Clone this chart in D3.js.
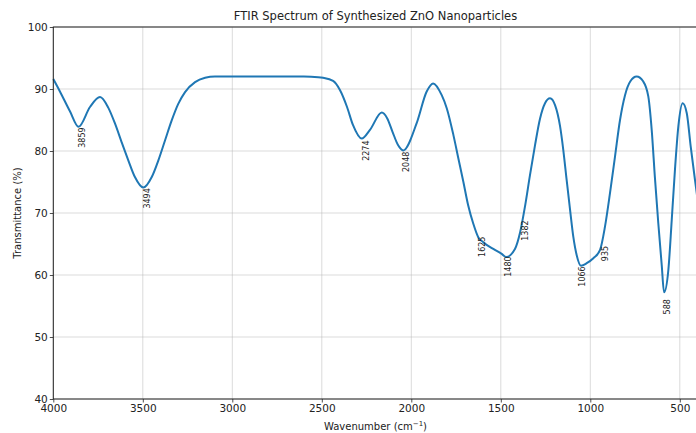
<!DOCTYPE html>
<html>
<head>
<meta charset="utf-8">
<script src="https://cdn.jsdelivr.net/npm/d3@7"></script>
<style>
  body { margin: 0; background: #fff; }
  text { font-family: "DejaVu Sans", sans-serif; }
</style>
</head>
<body>
<script>
var w = 696;
var h = 433;

// spectrum (wavenumber cm-1, transmittance %)
var wavenumbers = [4000, 3963, 3907, 3859, 3795, 3739, 3693, 3655, 3618, 3581, 3544, 3497,
  3450, 3413, 3376, 3339, 3302, 3264, 3208, 3152, 3097, 3000, 2800, 2600, 2520, 2493,
  2437, 2398, 2359, 2326, 2277, 2231, 2165, 2135, 2105, 2075, 2045, 1970, 1914, 1878, 1830, 1802,
  1765, 1737, 1709, 1682, 1654, 1626, 1598, 1542, 1495, 1470, 1421, 1392, 1364, 1337,
  1309, 1281, 1253, 1225, 1197, 1169, 1151, 1132, 1113, 1095, 1076, 1052, 1020, 983,
  946, 918, 890, 862, 834, 806, 777, 741, 704, 676, 657, 639, 620, 601, 588, 564,
  545, 527, 508, 484, 461, 439, 410, 400];
var transmittance = [91.6, 89.6, 86.4, 83.9, 87.1, 88.7, 87.0, 84.4, 81.4, 78.5, 75.8, 74.1,
  75.8, 78.5, 81.7, 84.9, 87.6, 89.5, 91.1, 91.8, 92.0, 92.0, 92.0, 92.0, 91.9, 91.8,
  91.3, 89.8, 87.1, 84.2, 82.0, 83.4, 86.2, 85.3, 83.1, 81.0, 80.1, 84.5, 89.6, 90.9, 89.0, 86.9,
  82.6, 78.8, 75.0, 71.2, 68.3, 66.1, 65.3, 64.2, 63.4, 62.9, 64.2, 66.9, 71.2, 76.1,
  80.9, 85.2, 87.7, 88.5, 87.4, 84.0, 80.2, 75.3, 70.5, 66.2, 63.2, 61.5, 61.9, 62.7,
  64.0, 67.8, 73.2, 79.1, 85.0, 89.0, 91.2, 92.0, 91.2, 88.8, 83.4, 75.7, 68.3, 61.6, 57.2, 60.8,
  68.9, 77.0, 84.0, 87.7, 86.1, 80.7, 74.2, 72.0];

// annotated peaks
var peakWavenumbers = [3859, 3494, 2274, 2048, 1625, 1480, 1382, 1066, 935, 588];
var peakTransmittance = [83.8, 74.0, 81.7, 79.9, 66.2, 63.0, 68.8, 61.4, 64.7, 56.1];

var xTicks = [4000, 3500, 3000, 2500, 2000, 1500, 1000, 500];
var yTicks = [40, 50, 60, 70, 80, 90, 100];

var padL = 53.3, padR = 697.7, padT = 27, padB = 399;

var svg = d3.select('body').append('svg').attr('width', w).attr('height', h);

var x = d3.scaleLinear().domain([4000, 400]).range([padL, padR]);
var y = d3.scaleLinear().domain([40, 100]).range([padB, padT]);

// grid
svg.append('g').selectAll('line')
  .data(xTicks)
  .enter().append('line')
  .attr('x1', function(d) {return x(d);})
  .attr('x2', function(d) {return x(d);})
  .attr('y1', padT).attr('y2', padB)
  .attr('stroke', '#b0b0b0').attr('stroke-opacity', 0.6).attr('stroke-width', 0.8);
svg.append('g').selectAll('line')
  .data(yTicks)
  .enter().append('line')
  .attr('x1', padL).attr('x2', padR)
  .attr('y1', function(d) {return y(d);})
  .attr('y2', function(d) {return y(d);})
  .attr('stroke', '#b0b0b0').attr('stroke-opacity', 0.6).attr('stroke-width', 0.8);

// spectrum
var pts = wavenumbers.map(function(d, i) {return [d, transmittance[i]];});
var line = d3.line()
  .x(function(d) {return x(d[0]);})
  .y(function(d) {return y(d[1]);})
  .curve(d3.curveMonotoneX);
svg.append('path')
  .attr('d', line(pts))
  .attr('fill', 'none')
  .attr('stroke', '#1f77b4')
  .attr('stroke-width', 2);

// peak labels
svg.append('g').selectAll('text')
  .data(peakWavenumbers)
  .enter().append('text')
  .text(function(d) {return d;})
  .attr('transform', function(d, i) {
    return 'translate(' + (x(d) + 3.5) + ',' + y(peakTransmittance[i]) + ') rotate(-90)';
  })
  .attr('text-anchor', 'end')
  .attr('dy', '0.35em')
  .attr('font-size', 8)
  .attr('fill', '#222');

// axes
var xAxis = d3.axisBottom(x).tickValues(xTicks).tickFormat(d3.format('d')).tickSize(3.5).tickPadding(2);
var yAxis = d3.axisLeft(y).tickValues(yTicks).tickFormat(d3.format('d')).tickSize(3.5).tickPadding(2);
var gx = svg.append('g').attr('transform', 'translate(0,' + padB + ')').call(xAxis);
var gy = svg.append('g').attr('transform', 'translate(' + padL + ',0)').call(yAxis);
[gx, gy].forEach(function(g) {
  g.select('.domain').remove();
  g.selectAll('text').attr('font-size', 10.5).attr('fill', '#222')
    .attr('font-family', '"DejaVu Sans", sans-serif');
  g.selectAll('line').attr('stroke', '#222').attr('stroke-width', 0.8);
});

// spines
svg.append('rect')
  .attr('x', padL).attr('y', padT)
  .attr('width', padR - padL).attr('height', padB - padT)
  .attr('fill', 'none').attr('stroke', '#222').attr('stroke-width', 1);

// titles
svg.append('text')
  .text('FTIR Spectrum of Synthesized ZnO Nanoparticles')
  .attr('x', (padL + padR) / 2).attr('y', 20)
  .attr('text-anchor', 'middle').attr('font-size', 11.5).attr('fill', '#222');

var xl = svg.append('text')
  .attr('x', (padL + padR) / 2).attr('y', 430)
  .attr('text-anchor', 'middle').attr('font-size', 10).attr('fill', '#222');
xl.append('tspan').text('Wavenumber (cm');
xl.append('tspan').text('\u22121').attr('font-size', 7).attr('dy', -4);
xl.append('tspan').text(')').attr('dy', 4);

svg.append('text')
  .text('Transmittance (%)')
  .attr('transform', 'translate(21,' + ((padT + padB) / 2) + ') rotate(-90)')
  .attr('text-anchor', 'middle').attr('font-size', 10).attr('fill', '#222');
</script>
</body>
</html>
